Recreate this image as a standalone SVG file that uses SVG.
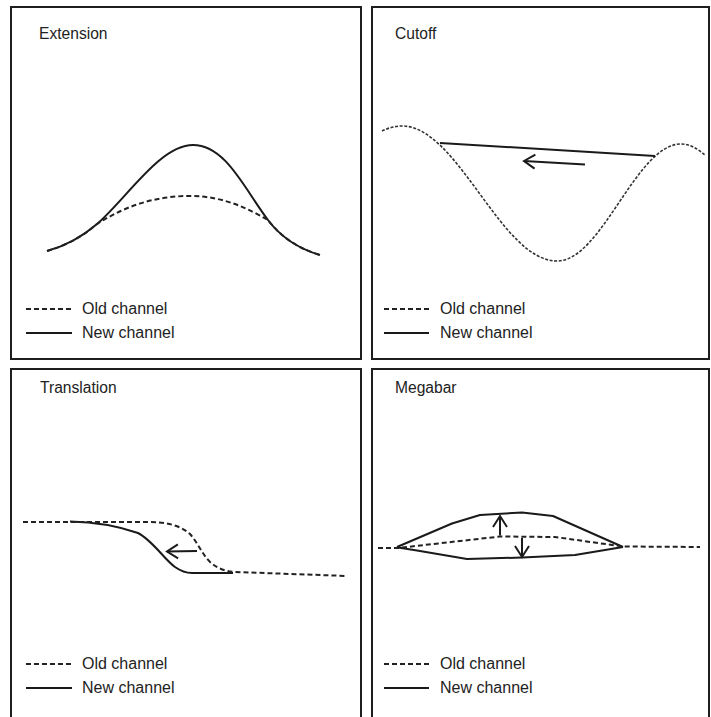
<svg xmlns="http://www.w3.org/2000/svg" width="711" height="717" viewBox="0 0 711 717">
<style>
.frame{fill:none;stroke:#1e1e1e;stroke-width:2}
.title,.leg{font-family:"Liberation Sans",Arial,sans-serif;font-size:16px;fill:#222}
.title{font-size:15.6px}
.old{fill:none;stroke:#222;stroke-width:2;stroke-dasharray:5,3}
.oldfine{fill:none;stroke:#333;stroke-width:1.6;stroke-dasharray:3,1.6}
.new{fill:none;stroke:#1a1a1a;stroke-width:2;stroke-linejoin:round}
.arr{fill:none;stroke:#1a1a1a;stroke-width:2;marker-end:url(#v)}
</style>
<defs>
<marker id="v" markerUnits="userSpaceOnUse" viewBox="-13 -9 15 18" markerWidth="15" markerHeight="18" refX="0" refY="0" orient="auto">
<path d="M-11,-7 L0,0 L-11,7" fill="none" stroke="#1a1a1a" stroke-width="2"/>
</marker>
</defs>
<rect width="711" height="717" fill="#fff"/>

<g id="panel-extension">
<rect class="frame" x="11" y="7" width="350" height="352"/>
<text class="title" x="39" y="39">Extension</text>
<path class="new" d="M47,251 C65,246 82,237 97,224 C127,198 160,145 193,145 C226,145 245,190 268,220 C283,240 303,250 320,255"/>
<path class="old" d="M47,251 C65,246 82,237 97,224 C130,203 160,196 190,196 C225,196 250,210 268,220 C283,240 303,250 320,255"/>
<line class="old" x1="26" y1="309" x2="72" y2="309"/>
<text class="leg" x="82" y="314">Old channel</text>
<line class="new" x1="26" y1="333" x2="72" y2="333"/>
<text class="leg" x="82" y="338">New channel</text>
</g>

<g id="panel-cutoff">
<rect class="frame" x="372" y="7" width="337" height="352"/>
<text class="title" x="395" y="39">Cutoff</text>
<path class="oldfine" d="M382,131 C388,128 395,126 402,126 C458,126 501,261 557,261 C602,261 636,144 681,144 C690,144 698,149 705,155"/>
<path class="new" d="M440,143 L655,156"/>
<line class="arr" x1="585" y1="164.5" x2="524" y2="161"/>
<line class="old" x1="384" y1="309" x2="429" y2="309"/>
<text class="leg" x="440" y="314">Old channel</text>
<line class="new" x1="384" y1="333" x2="429" y2="333"/>
<text class="leg" x="440" y="338">New channel</text>
</g>

<g id="panel-translation">
<rect class="frame" x="11" y="369" width="350" height="360"/>
<text class="title" x="40" y="393">Translation</text>
<path class="new" d="M70,521.5 C95,522 115,525 138,533 C152,540 165,560 175,567 C182,572 186,573 192,573 L233,573"/>
<path class="old" d="M23,522 L150,522 C165,522 180,525 190,534 C198,543 202,554 210,562 C218,569 225,571 235,572 L347,576"/>
<line class="arr" x1="197" y1="551" x2="167" y2="551.5"/>
<line class="old" x1="26" y1="664" x2="72" y2="664"/>
<text class="leg" x="82" y="669">Old channel</text>
<line class="new" x1="26" y1="688" x2="72" y2="688"/>
<text class="leg" x="82" y="693">New channel</text>
</g>

<g id="panel-megabar">
<rect class="frame" x="372" y="369" width="337" height="360"/>
<text class="title" x="395" y="393">Megabar</text>
<path class="new" d="M397,547 L452,523.5 L480,515 L522,512.5 L553,516 L623,547"/>
<path class="new" d="M398,547.5 L417,550.5 L467,559 L522,557.5 L575,555 L623,547"/>
<path class="old" d="M378,548 L398,548 L500,536.5 L555,537 L623,546.5 L700,547"/>
<line class="arr" x1="500" y1="535.5" x2="500" y2="516"/>
<line class="arr" x1="522" y1="538" x2="522" y2="557"/>
<line class="old" x1="384" y1="664" x2="429" y2="664"/>
<text class="leg" x="440" y="669">Old channel</text>
<line class="new" x1="384" y1="688" x2="429" y2="688"/>
<text class="leg" x="440" y="693">New channel</text>
</g>
</svg>
